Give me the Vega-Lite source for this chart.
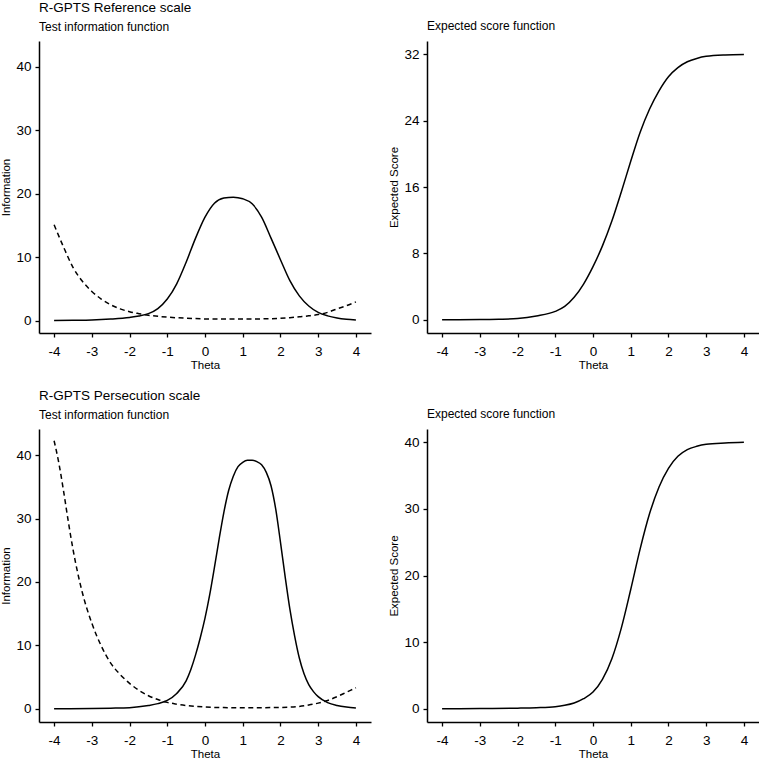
{
  "$schema": "https://vega.github.io/schema/vega-lite/v6.json",
  "padding": {"left": 0, "top": 0, "right": 0, "bottom": 0},
  "background": "white",
  "config": {
    "view": {"stroke": null},
    "font": "Liberation Sans",
    "axis": {
      "grid": false,
      "domainColor": "black",
      "domainWidth": 1.5,
      "tickColor": "black",
      "tickWidth": 1.3,
      "tickSize": 4,
      "labelColor": "black",
      "labelFont": "Liberation Sans",
      "labelFontSize": 13.5,
      "labelPadding": 4,
      "titleFont": "Liberation Sans",
      "titleFontSize": 11.5,
      "titleFontWeight": "normal",
      "titleColor": "black"
    },
    "axisX": {"titlePadding": 2, "labelPadding": 7, "labelFlush": false, "labelOverlap": false},
    "axisY": {"titlePadding": 5, "minExtent": 23, "maxExtent": 23, "labelOverlap": false},
    "title": {
      "anchor": "start",
      "frame": "group",
      "font": "Liberation Sans",
      "fontSize": 13.5,
      "fontWeight": "normal",
      "color": "black",
      "subtitleFont": "Liberation Sans",
      "subtitleFontSize": 12,
      "subtitleColor": "black",
      "subtitlePadding": 8,
      "offset": 8
    },
    "line": {"color": "black", "strokeWidth": 1.5, "interpolate": "monotone"}
  },
  "datasets": {
    "ref_tif": [
      {"theta": -4, "value": 0.02}, {"theta": -3.5, "value": 0.05}, {"theta": -3, "value": 0.1},
      {"theta": -2.5, "value": 0.25}, {"theta": -2, "value": 0.5}, {"theta": -1.75, "value": 0.72},
      {"theta": -1.5, "value": 1.1}, {"theta": -1.25, "value": 1.9}, {"theta": -1, "value": 3.4},
      {"theta": -0.75, "value": 5.8}, {"theta": -0.5, "value": 9.2}, {"theta": -0.25, "value": 13.0},
      {"theta": 0, "value": 16.3}, {"theta": 0.25, "value": 18.5}, {"theta": 0.5, "value": 19.3},
      {"theta": 0.75, "value": 19.45}, {"theta": 1, "value": 19.2}, {"theta": 1.25, "value": 18.4},
      {"theta": 1.5, "value": 16.3}, {"theta": 1.75, "value": 13.0}, {"theta": 2, "value": 9.6},
      {"theta": 2.25, "value": 6.3}, {"theta": 2.5, "value": 3.9}, {"theta": 2.75, "value": 2.3},
      {"theta": 3, "value": 1.3}, {"theta": 3.25, "value": 0.75}, {"theta": 3.5, "value": 0.42},
      {"theta": 3.75, "value": 0.22}, {"theta": 4, "value": 0.1}
    ],
    "ref_se": [
      {"theta": -4, "value": 15.1}, {"theta": -3.75, "value": 11.6}, {"theta": -3.5, "value": 8.4},
      {"theta": -3.25, "value": 6.2}, {"theta": -3, "value": 4.6}, {"theta": -2.75, "value": 3.4},
      {"theta": -2.5, "value": 2.5}, {"theta": -2.25, "value": 1.85}, {"theta": -2, "value": 1.4},
      {"theta": -1.75, "value": 1.1}, {"theta": -1.5, "value": 0.85}, {"theta": -1, "value": 0.55},
      {"theta": -0.5, "value": 0.38}, {"theta": 0, "value": 0.27}, {"theta": 0.5, "value": 0.24},
      {"theta": 1, "value": 0.24}, {"theta": 1.5, "value": 0.27}, {"theta": 2, "value": 0.37},
      {"theta": 2.25, "value": 0.47}, {"theta": 2.5, "value": 0.6}, {"theta": 2.75, "value": 0.75},
      {"theta": 3, "value": 0.95}, {"theta": 3.25, "value": 1.3}, {"theta": 3.5, "value": 1.85},
      {"theta": 3.75, "value": 2.35}, {"theta": 4, "value": 2.95}
    ],
    "ref_esf": [
      {"theta": -4, "value": 0}, {"theta": -3, "value": 0.02}, {"theta": -2.5, "value": 0.06},
      {"theta": -2, "value": 0.15}, {"theta": -1.5, "value": 0.45}, {"theta": -1, "value": 1.0},
      {"theta": -0.75, "value": 1.6}, {"theta": -0.5, "value": 2.7}, {"theta": -0.25, "value": 4.3},
      {"theta": 0, "value": 6.4}, {"theta": 0.25, "value": 8.9}, {"theta": 0.5, "value": 11.9},
      {"theta": 0.75, "value": 15.4}, {"theta": 1, "value": 19.1}, {"theta": 1.25, "value": 22.6},
      {"theta": 1.5, "value": 25.4}, {"theta": 1.75, "value": 27.6}, {"theta": 2, "value": 29.3},
      {"theta": 2.25, "value": 30.4}, {"theta": 2.5, "value": 31.1}, {"theta": 2.75, "value": 31.5},
      {"theta": 3, "value": 31.75}, {"theta": 3.5, "value": 31.92}, {"theta": 4, "value": 31.97}
    ],
    "per_tif": [
      {"theta": -4, "value": 0.0}, {"theta": -3, "value": 0.03}, {"theta": -2.5, "value": 0.08},
      {"theta": -2, "value": 0.16}, {"theta": -1.5, "value": 0.5}, {"theta": -1.25, "value": 0.8},
      {"theta": -1, "value": 1.3}, {"theta": -0.75, "value": 2.4}, {"theta": -0.5, "value": 4.4},
      {"theta": -0.375, "value": 6.2}, {"theta": -0.25, "value": 8.5}, {"theta": -0.125, "value": 11.2},
      {"theta": 0, "value": 14.3}, {"theta": 0.125, "value": 18.0}, {"theta": 0.25, "value": 22.3},
      {"theta": 0.375, "value": 26.8}, {"theta": 0.5, "value": 31.0}, {"theta": 0.625, "value": 34.4},
      {"theta": 0.75, "value": 36.7}, {"theta": 0.875, "value": 38.2}, {"theta": 1, "value": 38.9},
      {"theta": 1.125, "value": 39.2}, {"theta": 1.25, "value": 39.2}, {"theta": 1.375, "value": 39.0},
      {"theta": 1.5, "value": 38.5}, {"theta": 1.625, "value": 37.3}, {"theta": 1.75, "value": 35.2},
      {"theta": 1.875, "value": 31.5}, {"theta": 2, "value": 26.3}, {"theta": 2.125, "value": 20.8},
      {"theta": 2.25, "value": 15.7}, {"theta": 2.375, "value": 11.5}, {"theta": 2.5, "value": 8.0},
      {"theta": 2.625, "value": 5.5}, {"theta": 2.75, "value": 3.8}, {"theta": 2.875, "value": 2.7},
      {"theta": 3, "value": 1.9}, {"theta": 3.25, "value": 0.95}, {"theta": 3.5, "value": 0.5},
      {"theta": 3.75, "value": 0.25}, {"theta": 4, "value": 0.1}
    ],
    "per_se": [
      {"theta": -4, "value": 42.3}, {"theta": -3.875, "value": 38.8}, {"theta": -3.75, "value": 34.4},
      {"theta": -3.625, "value": 29.6}, {"theta": -3.5, "value": 25.2}, {"theta": -3.25, "value": 18.3},
      {"theta": -3, "value": 13.5}, {"theta": -2.75, "value": 9.9}, {"theta": -2.5, "value": 7.2},
      {"theta": -2.25, "value": 5.4}, {"theta": -2, "value": 4.0}, {"theta": -1.75, "value": 2.9},
      {"theta": -1.5, "value": 2.05}, {"theta": -1.25, "value": 1.45}, {"theta": -1, "value": 1.0},
      {"theta": -0.75, "value": 0.72}, {"theta": -0.5, "value": 0.5}, {"theta": 0, "value": 0.27},
      {"theta": 0.5, "value": 0.17}, {"theta": 1, "value": 0.15}, {"theta": 1.5, "value": 0.16},
      {"theta": 2, "value": 0.2}, {"theta": 2.5, "value": 0.36}, {"theta": 2.75, "value": 0.58},
      {"theta": 3, "value": 0.88}, {"theta": 3.25, "value": 1.3}, {"theta": 3.5, "value": 1.9},
      {"theta": 3.75, "value": 2.6}, {"theta": 4, "value": 3.3}
    ],
    "per_esf": [
      {"theta": -4, "value": 0}, {"theta": -3, "value": 0.02}, {"theta": -2, "value": 0.08},
      {"theta": -1.5, "value": 0.15}, {"theta": -1, "value": 0.3}, {"theta": -0.75, "value": 0.5},
      {"theta": -0.5, "value": 0.85}, {"theta": -0.25, "value": 1.5}, {"theta": 0, "value": 2.5},
      {"theta": 0.25, "value": 4.4}, {"theta": 0.5, "value": 7.5}, {"theta": 0.75, "value": 12.1},
      {"theta": 1, "value": 17.9}, {"theta": 1.25, "value": 24.0}, {"theta": 1.5, "value": 29.3},
      {"theta": 1.75, "value": 33.3}, {"theta": 2, "value": 36.1}, {"theta": 2.25, "value": 37.9},
      {"theta": 2.5, "value": 38.9}, {"theta": 2.75, "value": 39.4}, {"theta": 3, "value": 39.7},
      {"theta": 3.5, "value": 39.9}, {"theta": 4, "value": 40.0}
    ]
  },
  "columns": 2,
  "bounds": "flush",
  "spacing": {"row": 96, "column": 56},
  "concat": [
    {
      "width": 332,
      "height": 292,
      "title": {"text": "R-GPTS Reference scale", "subtitle": "Test information function"},
      "encoding": {
        "x": {"field": "theta", "type": "quantitative", "scale": {"domain": [-4.4, 4.4], "nice": false, "zero": false},
              "axis": {"values": [-4, -3, -2, -1, 0, 1, 2, 3, 4], "labelExpr": "'' + datum.value", "title": "Theta"}},
        "y": {"field": "value", "type": "quantitative", "scale": {"domain": [-1.95, 44.05], "nice": false, "zero": false},
              "axis": {"values": [0, 10, 20, 30, 40], "labelExpr": "'' + datum.value", "title": "Information"}}
      },
      "layer": [
        {"data": {"name": "ref_se"}, "mark": {"type": "line", "strokeDash": [5, 3.5]}},
        {"data": {"name": "ref_tif"}, "mark": {"type": "line"}}
      ]
    },
    {
      "width": 332,
      "height": 292,
      "title": {"text": "Expected score function", "fontSize": 12},
      "data": {"name": "ref_esf"},
      "mark": {"type": "line"},
      "encoding": {
        "x": {"field": "theta", "type": "quantitative", "scale": {"domain": [-4.4, 4.4], "nice": false, "zero": false},
              "axis": {"values": [-4, -3, -2, -1, 0, 1, 2, 3, 4], "labelExpr": "'' + datum.value", "title": "Theta"}},
        "y": {"field": "value", "type": "quantitative", "scale": {"domain": [-1.6, 33.6], "nice": false, "zero": false},
              "axis": {"values": [0, 8, 16, 24, 32], "labelExpr": "'' + datum.value", "title": "Expected Score"}}
      }
    },
    {
      "width": 332,
      "height": 293,
      "title": {"text": "R-GPTS Persecution scale", "subtitle": "Test information function"},
      "encoding": {
        "x": {"field": "theta", "type": "quantitative", "scale": {"domain": [-4.4, 4.4], "nice": false, "zero": false},
              "axis": {"values": [-4, -3, -2, -1, 0, 1, 2, 3, 4], "labelExpr": "'' + datum.value", "title": "Theta"}},
        "y": {"field": "value", "type": "quantitative", "scale": {"domain": [-2.1, 44.15], "nice": false, "zero": false},
              "axis": {"values": [0, 10, 20, 30, 40], "labelExpr": "'' + datum.value", "title": "Information"}}
      },
      "layer": [
        {"data": {"name": "per_se"}, "mark": {"type": "line", "strokeDash": [5, 3.5]}},
        {"data": {"name": "per_tif"}, "mark": {"type": "line"}}
      ]
    },
    {
      "width": 332,
      "height": 293,
      "title": {"text": "Expected score function", "fontSize": 12},
      "data": {"name": "per_esf"},
      "mark": {"type": "line"},
      "encoding": {
        "x": {"field": "theta", "type": "quantitative", "scale": {"domain": [-4.4, 4.4], "nice": false, "zero": false},
              "axis": {"values": [-4, -3, -2, -1, 0, 1, 2, 3, 4], "labelExpr": "'' + datum.value", "title": "Theta"}},
        "y": {"field": "value", "type": "quantitative", "scale": {"domain": [-2, 42], "nice": false, "zero": false},
              "axis": {"values": [0, 10, 20, 30, 40], "labelExpr": "'' + datum.value", "title": "Expected Score"}}
      }
    }
  ]
}
